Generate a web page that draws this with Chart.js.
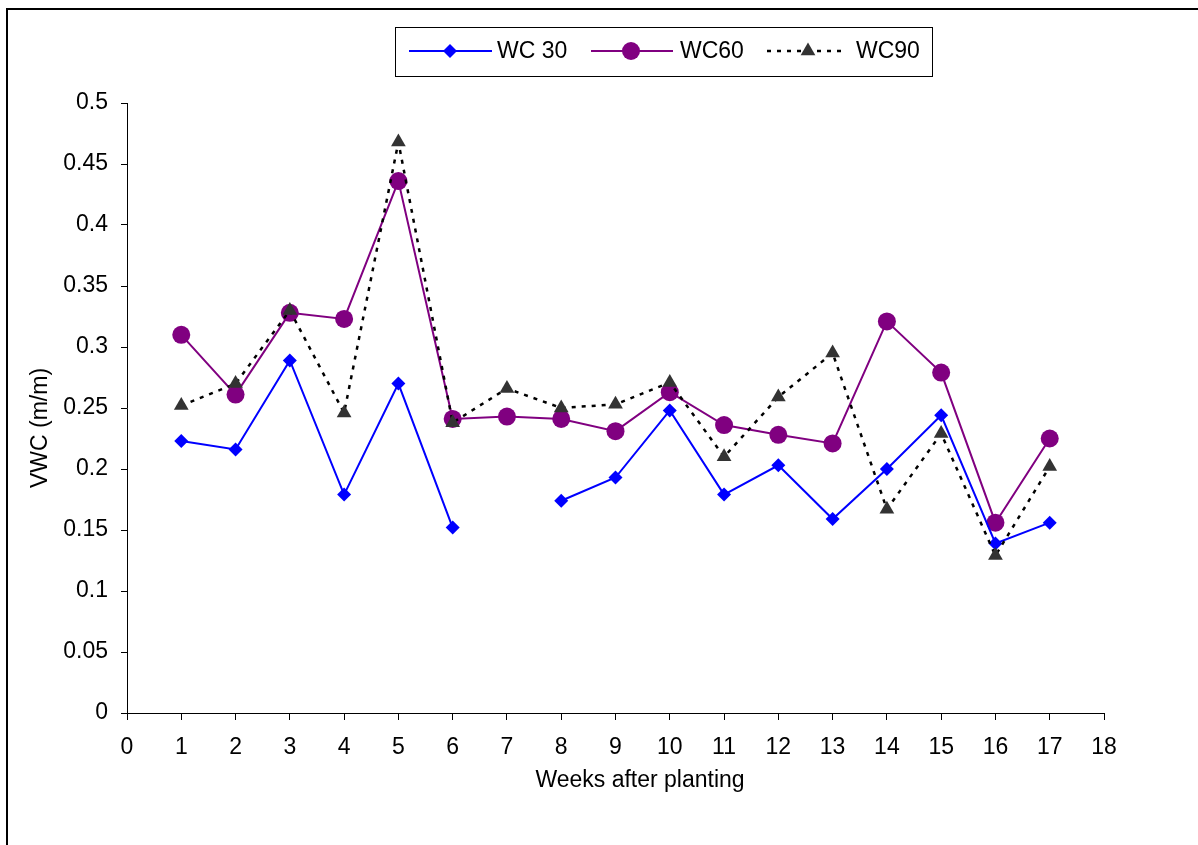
<!DOCTYPE html>
<html>
<head>
<meta charset="utf-8">
<script src="https://cdn.jsdelivr.net/npm/chart.js@4.4.1/dist/chart.umd.min.js"></script>
<style>
  html, body { margin: 0; padding: 0; background: #ffffff; }
  #wrap { width: 1198px; height: 845px; position: relative; }
</style>
</head>
<body>
<div id="wrap"><canvas id="c" width="1198" height="845"></canvas></div>
<script>
const weeks = [1, 2, 3, 4, 5, 6, 7, 8, 9, 10, 11, 12, 13, 14, 15, 16, 17];
const wc30 = [0.223, 0.216, 0.289, 0.179, 0.270, 0.152, null, 0.174, 0.193, 0.248, 0.179, 0.203, 0.159, 0.200, 0.244, 0.139, 0.156];
const wc60 = [0.310, 0.261, 0.328, 0.323, 0.436, 0.241, 0.243, 0.241, 0.231, 0.263, 0.236, 0.228, 0.221, 0.321, 0.279, 0.156, 0.225];
const wc90 = [0.252, 0.270, 0.330, 0.246, 0.468, 0.238, 0.266, 0.250, 0.253, 0.271, 0.210, 0.259, 0.295, 0.167, 0.229, 0.129, 0.202];
const seriesNames = ['WC 30', 'WC60', 'WC90'];
const xTitle = 'Weeks after planting';
const yTitle = 'VWC (m/m)';

const FONT = "'Liberation Sans', Arial, Helvetica, sans-serif";
const toPts = arr => weeks.map((w, i) => ({ x: w, y: arr[i] }));

const datasets = [
  {
    label: seriesNames[0], data: toPts(wc30), order: 1,
    borderColor: '#0000ff', backgroundColor: '#0000ff', borderWidth: 2,
    pointStyle: 'rectRot', pointRadius: 7, pointBorderWidth: 0,
    pointBackgroundColor: '#0000ff', pointBorderColor: '#0000ff', spanGaps: false, tension: 0
  },
  {
    label: seriesNames[1], data: toPts(wc60), order: 2,
    borderColor: '#800080', backgroundColor: '#800080', borderWidth: 2,
    pointStyle: 'circle', pointRadius: 9, pointBorderWidth: 0,
    pointBackgroundColor: '#800080', pointBorderColor: '#800080', tension: 0
  },
  {
    label: seriesNames[2], data: toPts(wc90), order: 0,
    borderColor: '#000000', backgroundColor: '#333333', borderWidth: 2.5, borderDash: [4, 6],
    pointStyle: 'triangle', pointRadius: 8.5, pointBorderWidth: 0,
    pointBackgroundColor: '#333333', pointBorderColor: '#333333', tension: 0
  }
];

const decor = {
  id: 'decor',
  beforeDraw(chart) {
    const ctx = chart.ctx;
    ctx.save();
    ctx.fillStyle = '#ffffff';
    ctx.fillRect(0, 0, chart.width, chart.height);
    ctx.strokeStyle = '#000000';
    ctx.lineWidth = 2;
    ctx.beginPath();
    ctx.moveTo(7, chart.height + 5);
    ctx.lineTo(7, 9);
    ctx.lineTo(chart.width + 5, 9);
    ctx.stroke();
    ctx.restore();
  },
  afterDraw(chart) {
    const ctx = chart.ctx;
    ctx.save();
    ctx.fillStyle = '#000000';
    ctx.font = '23px ' + FONT;
    ctx.textAlign = 'center';
    ctx.textBaseline = 'middle';
    ctx.fillText(xTitle, 640, 781);
    ctx.save();
    ctx.translate(41, 428);
    ctx.rotate(-Math.PI / 2);
    ctx.fillText(yTitle, 0, 0);
    ctx.restore();

    ctx.strokeStyle = '#000000';
    ctx.lineWidth = 1;
    ctx.strokeRect(395.5, 27.5, 537, 49);
    const ly = 51;
    const items = [
      { x0: 409, x1: 492, mx: 450, tx: 497 },
      { x0: 591, x1: 673, mx: 631, tx: 680 },
      { x0: 767, x1: 845, mx: 808, tx: 856 }
    ];
    items.forEach((it, i) => {
      const ds = chart.data.datasets[i];
      ctx.save();
      ctx.strokeStyle = ds.borderColor;
      ctx.lineWidth = ds.borderWidth;
      ctx.setLineDash(ds.borderDash || []);
      ctx.beginPath();
      ctx.moveTo(it.x0, ly);
      ctx.lineTo(it.x1, ly);
      ctx.stroke();
      ctx.setLineDash([]);
      ctx.fillStyle = ds.pointBackgroundColor;
      ctx.strokeStyle = ds.pointBorderColor;
      Chart.helpers.drawPoint(ctx, { pointStyle: ds.pointStyle, radius: ds.pointRadius, borderWidth: 0, rotation: 0 }, it.mx, ly);
      ctx.restore();
      ctx.fillStyle = '#000000';
      ctx.textAlign = 'left';
      ctx.textBaseline = 'middle';
      ctx.font = '23px ' + FONT;
      ctx.fillText(ds.label, it.tx, ly + 1);
    });
    ctx.restore();
  }
};

new Chart(document.getElementById('c'), {
  type: 'line',
  data: { datasets },
  options: {
    responsive: false,
    animation: false,
    devicePixelRatio: 1,
    layout: { padding: { top: 103, right: 94, bottom: 0, left: 0 } },
    plugins: { legend: { display: false }, tooltip: { enabled: false }, title: { display: false } },
    scales: {
      x: {
        type: 'linear', min: 0, max: 18,
        ticks: { stepSize: 1, color: '#000000', font: { family: FONT, size: 23 }, padding: 14, maxRotation: 0, autoSkip: false },
        grid: { display: true, drawOnChartArea: false, color: '#000000', tickLength: 7, lineWidth: 1 },
        border: { display: true, color: '#000000', width: 1 },
        afterFit(s) { s.height = 132; }
      },
      y: {
        type: 'linear', min: 0, max: 0.5,
        ticks: { stepSize: 0.05, color: '#000000', font: { family: FONT, size: 23 }, padding: 13,
          callback: v => String(Number(v.toFixed(2))) },
        grid: { display: true, drawOnChartArea: false, color: '#000000', tickLength: 6, lineWidth: 1 },
        border: { display: true, color: '#000000', width: 1 },
        afterFit(s) { s.width = 127; }
      }
    }
  },
  plugins: [decor]
});
</script>
</body>
</html>
